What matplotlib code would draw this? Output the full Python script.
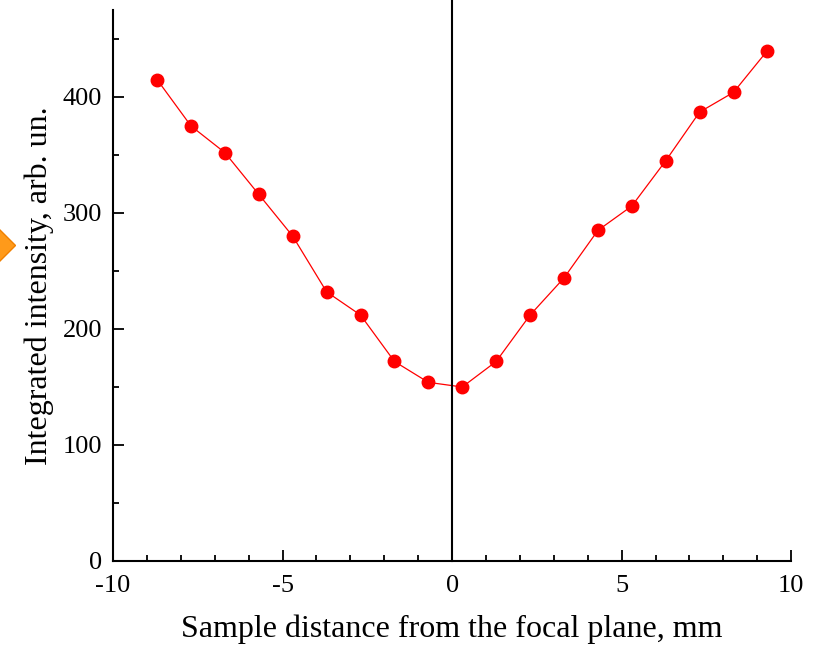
import numpy as np
import matplotlib.pyplot as plt
from matplotlib.lines import Line2D
from matplotlib.ticker import MultipleLocator

plt.rcParams['font.family'] = ['Liberation Serif', 'DejaVu Serif']
plt.rcParams['axes.unicode_minus'] = False

# sample position (mm) and integrated intensity
distance = [-8.7, -7.7, -6.7, -5.7, -4.7, -3.7, -2.7, -1.7, -0.7, 0.3,
            1.3, 2.3, 3.3, 4.3, 5.3, 6.3, 7.3, 8.3, 9.3]
intensity = [415, 375, 352, 316, 280, 232, 212, 172, 154, 150,
             172, 212, 244, 285, 306, 345, 387, 404, 440]

fig = plt.figure(figsize=(8.19, 6.49), dpi=100)
ax = fig.add_axes([0.138, 0.1356, 0.828, 0.849])

ax.plot(distance, intensity, color='red', lw=0.9, marker='o', ms=9,
        mfc='red', mec='red')
ax.axvline(0, ymin=0, ymax=1.02, color='black', lw=1.5, clip_on=False)

ax.set_xlim(-10, 10)
ax.set_ylim(0, 475)
ax.xaxis.set_major_locator(MultipleLocator(5))
ax.xaxis.set_minor_locator(MultipleLocator(1))
ax.yaxis.set_major_locator(MultipleLocator(100))
ax.yaxis.set_minor_locator(MultipleLocator(50))
ax.tick_params(which='both', direction='in', width=1.3, labelsize=19)
ax.tick_params(which='major', length=8)
ax.tick_params(which='minor', length=4.5)
ax.tick_params(axis='x', pad=10)
ax.tick_params(axis='y', pad=8)

for s in ['top', 'right']:
    ax.spines[s].set_visible(False)
for s in ['left', 'bottom']:
    ax.spines[s].set_linewidth(1.5)

ax.set_xlabel('Sample distance from the focal plane, mm', fontsize=23, labelpad=13)
ax.set_ylabel('Integrated intensity, arb. un.', fontsize=23, labelpad=6)

# partial orange marker at the left edge
fig.add_artist(Line2D([-0.002], [1 - 245 / 649], transform=fig.transFigure,
                      marker='D', ms=17, mfc='#ff9a1a', mec='#f08000',
                      linestyle='none'))

fig.savefig('out.png', dpi=100)
